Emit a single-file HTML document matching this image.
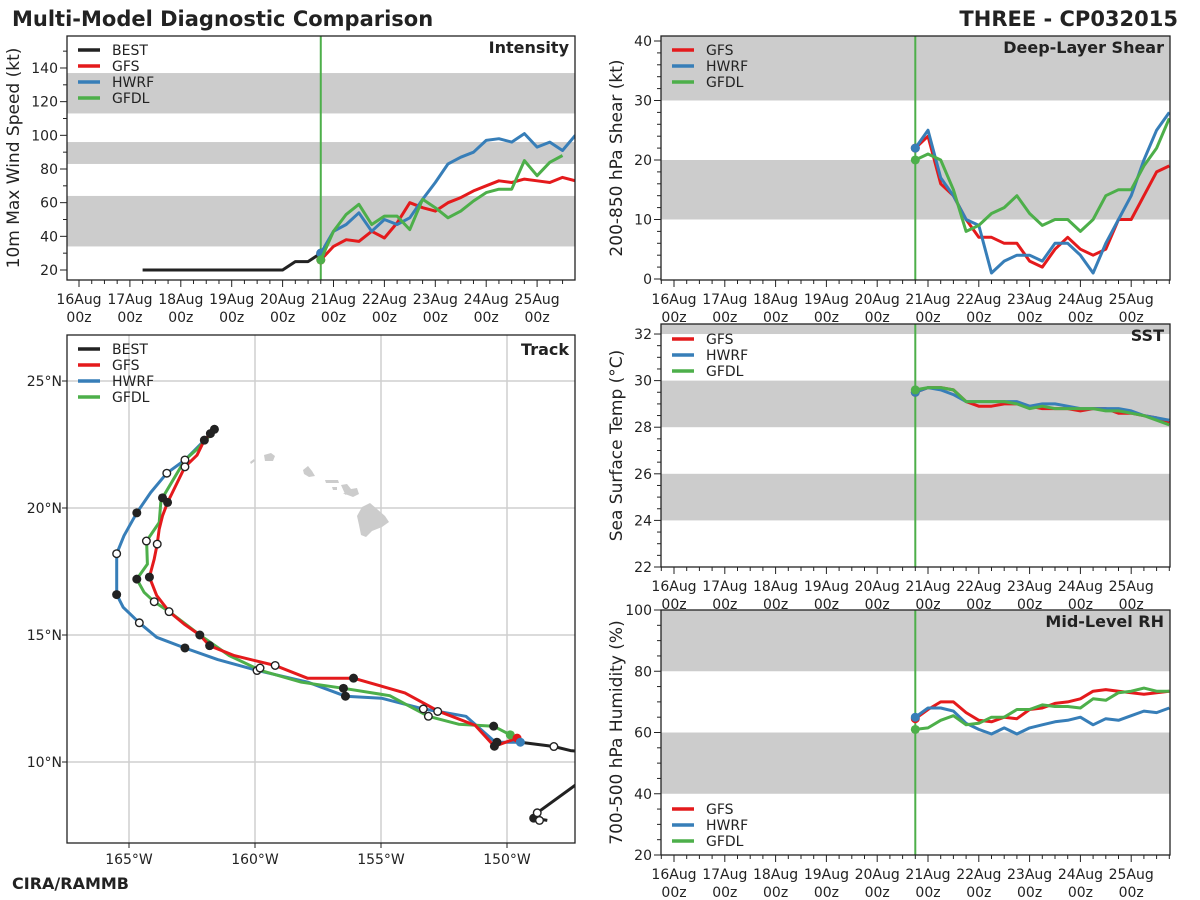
<!DOCTYPE html>
<html><head><meta charset="utf-8"><style>
html,body{margin:0;padding:0;background:#fff;}
svg{display:block;font-family:"DejaVu Sans","Liberation Sans",sans-serif;}
</style></head><body>
<svg id="chart" width="1200" height="900" viewBox="0 0 1200 900" xmlns="http://www.w3.org/2000/svg">
<rect width="1200" height="900" fill="#fff"/>
<text x="12" y="26" font-size="21" font-weight="bold" fill="#222">Multi-Model Diagnostic Comparison</text>
<text x="1178" y="26" font-size="21" font-weight="bold" fill="#222" text-anchor="end">THREE - CP032015</text>
<text x="12" y="889" font-size="16" font-weight="bold" fill="#222">CIRA/RAMMB</text>
<g id="layer"></g>
</svg>
<script>
// ---------- data ----------
const dayLabels = ["16Aug","17Aug","18Aug","19Aug","20Aug","21Aug","22Aug","23Aug","24Aug","25Aug"];
const bestTimes = [1.25,1.5,1.75,2.0,2.25,2.5,2.75,3.0,3.25,3.5,3.75,4.0,4.25,4.5,4.75];
const bestIntensity = [20,20,20,20,20,20,20,20,20,20,20,20,25,25,30];
const modelTimes = [4.75,5.0,5.25,5.5,5.75,6.0,6.25,6.5,6.75,7.0,7.25,7.5,7.75,8.0,8.25,8.5,8.75,9.0,9.25,9.5,9.75];
const initTime = 4.75;
const gfsIntensity = [26,34,38,37,43,39,48,60,57,55,60,63,67,70,73,72,74,73,72,75,73];
const hwrfIntensity = [30,43,47,54,43,50,47,51,62,72,83,87,90,97,98,96,101,93,96,91,100];
const gfdlIntensity = [26,43,53,59,47,52,52,44,62,57,51,55,61,66,68,68,85,76,84,88];
const gfsShear = [22,24,16,14,10,7,7,6,6,3,2,5,7,5,4,5,10,10,14,18,19];
const hwrfShear = [22,25,17,14,10,9,1,3,4,4,3,6,6,4,1,6,10,14,20,25,28];
const gfdlShear = [20,21,20,15,8,9,11,12,14,11,9,10,10,8,10,14,15,15,19,22,27];
const gfsSST = [29.5,29.7,29.7,29.6,29.1,28.9,28.9,29.0,29.0,28.9,28.8,28.8,28.8,28.7,28.8,28.8,28.6,28.6,28.5,28.4,28.2];
const hwrfSST = [29.5,29.7,29.6,29.4,29.1,29.1,29.1,29.1,29.1,28.9,29.0,29.0,28.9,28.8,28.8,28.8,28.8,28.7,28.5,28.4,28.3];
const gfdlSST = [29.6,29.7,29.7,29.6,29.1,29.1,29.1,29.1,29.0,28.8,28.9,28.8,28.8,28.8,28.8,28.7,28.7,28.6,28.5,28.3,28.1];
const gfsRH = [64.5,67.5,70,70,66.5,64,63.5,65,64.5,67.5,68,69.5,70,71,73.5,74,73.5,73,72.5,73,73.5];
const hwrfRH = [65,68,68,67,63,61,59.5,61.5,59.5,61.5,62.5,63.5,64,65,62.5,64.5,64,65.5,67,66.5,68];
const gfdlRH = [61,61.5,64,65.5,62.5,63,65,65,67.5,67.5,69,68.5,68.5,68,71,70.5,73,73.5,74.5,73.5,73.5];
// track [lon, lat]
const bestTrack = [[-148.4,7.7],[-148.94,7.79],[-148.8,8.0],[-146.8,9.44],[-146.3,10.35],[-147.48,10.45],[-148.14,10.61],[-149.47,10.78]];
const gfsTrack = [[-149.6,10.94],[-150.5,10.62],[-151.26,11.44],[-152.72,12.0],[-154.05,12.72],[-156.09,13.3],[-157.92,13.3],[-159.2,13.8],[-160.82,14.19],[-161.8,14.58],[-162.19,15.0],[-162.81,15.43],[-163.41,15.92],[-163.9,16.55],[-164.19,17.28],[-164.0,17.99],[-163.88,18.58],[-163.8,19.17],[-163.67,19.69],[-163.47,20.22],[-162.78,21.62],[-162.3,22.08],[-162.01,22.67],[-161.77,22.93],[-161.61,23.1]];
const hwrfTrack = [[-149.47,10.78],[-150.46,10.78],[-151.63,11.8],[-152.72,11.99],[-153.32,12.09],[-154.98,12.51],[-156.41,12.59],[-157.9,13.14],[-159.89,13.6],[-161.48,14.03],[-162.78,14.49],[-163.9,14.91],[-164.59,15.48],[-165.23,16.09],[-165.49,16.59],[-165.49,17.6],[-165.49,18.2],[-165.2,18.91],[-164.69,19.81],[-164.14,20.61],[-163.5,21.37],[-162.78,21.89],[-161.77,22.9]];
const gfdlTrack = [[-149.87,11.07],[-150.53,11.41],[-151.92,11.49],[-153.12,11.8],[-153.92,12.22],[-154.65,12.61],[-156.49,12.9],[-158.16,13.14],[-159.76,13.6],[-161.02,14.19],[-162.19,15.0],[-163.41,15.92],[-164.0,16.31],[-164.4,16.68],[-164.69,17.2],[-164.27,17.79],[-164.3,18.7],[-163.8,19.43],[-163.74,20.22],[-163.67,20.4],[-162.78,21.89],[-162.3,22.31],[-161.68,22.97]];
const filledMarkers = [[-161.61,23.1],[-161.77,22.93],[-162.01,22.67],[-163.67,20.4],[-163.47,20.22],[-164.69,19.81],[-165.49,16.59],[-164.69,17.2],[-164.19,17.28],[-162.19,15.0],[-161.8,14.58],[-162.78,14.49],[-156.09,13.3],[-156.49,12.9],[-156.41,12.59],[-150.53,11.41],[-150.4,10.78],[-150.5,10.62],[-148.94,7.79]];
const openMarkers = [[-162.78,21.89],[-162.78,21.62],[-163.5,21.37],[-164.31,18.7],[-163.88,18.58],[-165.49,18.2],[-164.0,16.31],[-163.41,15.92],[-164.59,15.48],[-159.92,13.6],[-159.8,13.7],[-159.2,13.8],[-153.32,12.09],[-152.75,11.99],[-153.12,11.8],[-148.14,10.61],[-148.8,8.0],[-148.71,7.7]];
const lonTicks = [-165,-160,-155,-150];
const latTicks = [10,15,20,25];

const C = {BEST:"#222222",GFS:"#e41a1c",HWRF:"#377eb8",GFDL:"#4daf4a"};
const NS = "http://www.w3.org/2000/svg";
const layer = document.getElementById('layer');
function mk(tag, attrs, parent){
  const e = document.createElementNS(NS, tag);
  for (const k in attrs) e.setAttribute(k, attrs[k]);
  (parent||layer).appendChild(e);
  return e;
}
function txt(x,y,s,size,anchor,weight,parent){
  const t = mk('text',{x:x,y:y,'font-size':size,'text-anchor':anchor||'start','font-weight':weight||'normal',fill:'#222'},parent);
  t.textContent = s; return t;
}

function timePanel(p){
  const g = mk('g',{});
  
  
  const X = t => p.x0 + (t - p.tmin)/(p.tmax - p.tmin)*(p.x1-p.x0);
  const Y = v => p.y1 - (v - p.ymin)/(p.ymax - p.ymin)*(p.y1-p.y0);
  const cid = 'clip-'+p.name;
  const cp = mk('clipPath',{id:cid},g); mk('rect',{x:p.x0,y:p.y0,width:p.x1-p.x0,height:p.y1-p.y0},cp);
  p.bands.forEach(b=>{
    const yt = Math.max(p.y0, Y(b[1])), yb = Math.min(p.y1, Y(b[0]));
    const r = mk('rect',{x:p.x0,y:yt,width:p.x1-p.x0,height:yb-yt,fill:'#cccccc'},g);
    
    
  });
  const vl = mk('line',{x1:X(initTime),x2:X(initTime),y1:p.y0,y2:p.y1,stroke:C.GFDL,'stroke-width':2},g);
  
  
  const sg = mk('g',{'clip-path':'url(#'+cid+')'},g);
  p.series.forEach(s=>{
    const pts = s.v.map((v,i)=>X(s.t[i]).toFixed(1)+','+Y(v).toFixed(1)).join(' ');
    const pl = mk('polyline',{points:pts,fill:'none',stroke:C[s.k],'stroke-width':3,'stroke-linejoin':'round'},sg);
    
    
    const idx = s.k==='BEST' ? s.v.length-1 : 0;
    const c = mk('circle',{cx:X(s.t[idx]),cy:Y(s.v[idx]),r:4.5,fill:C[s.k]},sg);
    
    
  });
  mk('rect',{x:p.x0,y:p.y0,width:p.x1-p.x0,height:p.y1-p.y0,fill:'none',stroke:'#222','stroke-width':1.3},g);
  for (let q=Math.ceil(p.tmin*4); q<=p.tmax*4; q++){
    const x = X(q/4), major = q%4===0;
    mk('line',{x1:x,x2:x,y1:p.y1,y2:p.y1+(major?7:4),stroke:'#222','stroke-width':1},g);
  }
  dayLabels.forEach((d,i)=>{
    const a = txt(X(i),p.y1+24,d,14,'middle',null,g);
    
    
    txt(X(i),p.y1+42,'00z',14,'middle',null,g);
  });
  for (let v=Math.ceil(p.ymin/p.minor)*p.minor; v<=p.ymax+1e-6; v+=p.minor){
    const major = Math.abs(v/p.major - Math.round(v/p.major))<1e-6;
    const y = Y(v);
    mk('line',{x1:p.x0,x2:p.x0-(major?7:4),y1:y,y2:y,stroke:'#222','stroke-width':1},g);
    if (major){
      const a = txt(p.x0-9,y+5,String(Math.round(v)),14,'end',null,g);
      
      
    }
  }
  const yl = txt(0,0,p.ylabel,17,'middle',null,g);
  yl.setAttribute('transform','translate('+p.ylx+','+((p.y0+p.y1)/2)+') rotate(-90)');
  
  
  const tt = txt(p.x1-6,p.y0+17,p.title,16,'end','bold',g);
  
  
  legend(g, p.x0+11, p.legY, p.series.map(s=>s.k));
}
function legend(g, x, y, keys){
  keys.forEach((k,i)=>{
    const lg = mk('g',{},g);
    
    
    const yy = y + i*16;
    mk('line',{x1:x,x2:x+22,y1:yy,y2:yy,stroke:C[k],'stroke-width':3.5},lg);
    txt(x+34,yy+5,k,14,'start',null,lg);
  });
}

const L = {x0:67,x1:575,tmin:(67-79)/50.9,tmax:(575-79)/50.9};
const R = {x0:661,x1:1170,tmin:(661-674)/50.8,tmax:(1170-674)/50.8};
timePanel(Object.assign({name:'intensity-panel',y0:36,y1:280,ymin:14.06,ymax:159,bands:[[34,64],[83,96],[113,137]],minor:10,major:20,
  ylabel:'10m Max Wind Speed (kt)',ylx:19,title:'Intensity',legY:50,
  series:[{k:'BEST',t:bestTimes,v:bestIntensity},{k:'GFS',t:modelTimes,v:gfsIntensity},{k:'HWRF',t:modelTimes,v:hwrfIntensity},{k:'GFDL',t:modelTimes,v:gfdlIntensity}]},L));
timePanel(Object.assign({name:'shear-panel',y0:36,y1:280,ymin:-0.17,ymax:40.84,bands:[[10,20],[30,45]],minor:2,major:10,
  ylabel:'200-850 hPa Shear (kt)',ylx:622,title:'Deep-Layer Shear',legY:50,
  series:[{k:'GFS',t:modelTimes,v:gfsShear},{k:'HWRF',t:modelTimes,v:hwrfShear},{k:'GFDL',t:modelTimes,v:gfdlShear}]},R));
timePanel(Object.assign({name:'sst-panel',y0:324,y1:567,ymin:22,ymax:32.43,bands:[[24,26],[28,30],[32,34]],minor:0.5,major:2,
  ylabel:'Sea Surface Temp (°C)',ylx:622,title:'SST',legY:339,
  series:[{k:'GFS',t:modelTimes,v:gfsSST},{k:'HWRF',t:modelTimes,v:hwrfSST},{k:'GFDL',t:modelTimes,v:gfdlSST}]},R));
timePanel(Object.assign({name:'rh-panel',y0:610,y1:855,ymin:20,ymax:100,bands:[[40,60],[80,100]],minor:5,major:20,
  ylabel:'700-500 hPa Humidity (%)',ylx:622,title:'Mid-Level RH',legY:809,
  series:[{k:'GFS',t:modelTimes,v:gfsRH},{k:'HWRF',t:modelTimes,v:hwrfRH},{k:'GFDL',t:modelTimes,v:gfdlRH}]},R));

// ---------- track ----------
(function(){
  const p = {x0:67,x1:575,y0:335,y1:843};
  const lonMin = -165-(129-67)/25.2, lonMax = -165+(575-129)/25.2;
  const latMax = 25+(381-335)/25.4, latMin = 25-(843-381)/25.4;
  const X = lo => p.x0 + (lo-lonMin)/(lonMax-lonMin)*(p.x1-p.x0);
  const Y = la => p.y1 - (la-latMin)/(latMax-latMin)*(p.y1-p.y0);
  const g = mk('g',{});
  
  
  const cp = mk('clipPath',{id:'clip-track'},g); mk('rect',{x:p.x0,y:p.y0,width:p.x1-p.x0,height:p.y1-p.y0},cp);
  lonTicks.forEach(lo=>{
    const l = mk('line',{x1:X(lo),x2:X(lo),y1:p.y0,y2:p.y1,stroke:'#cfcfcf','stroke-width':1.5},g);
    
    
    mk('line',{x1:X(lo),x2:X(lo),y1:p.y1,y2:p.y1+5,stroke:'#222'},g);
    const t = txt(X(lo),p.y1+21,Math.abs(lo)+'°W',14,'middle',null,g);
    
    
  });
  latTicks.forEach(la=>{
    const l = mk('line',{x1:p.x0,x2:p.x1,y1:Y(la),y2:Y(la),stroke:'#cfcfcf','stroke-width':1.5},g);
    
    
    mk('line',{x1:p.x0,x2:p.x0-5,y1:Y(la),y2:Y(la),stroke:'#222'},g);
    const t = txt(p.x0-5,Y(la)+5,la+'°N',14,'end',null,g);
    
    
  });
  const isl = mk('g',{fill:'#cccccc'},g);
  
  
  mk('path',{d:'M362 507 L370 503 L377 509 L385 516 L389 522 L382 527 L372 531 L366 537 L361 535 L359 525 L357 516 Z'},isl);
  mk('path',{d:'M341 485 L347 484 L351 489 L357 488 L359 494 L353 497 L345 494 Z'},isl);
  mk('path',{d:'M325 480 L338 480 L339 483 L326 483 Z'},isl);
  mk('path',{d:'M332 487 L337 487 L337 490 L333 490 Z'},isl);
  mk('path',{d:'M343 493 L347 493 L346 495 Z'},isl);
  mk('path',{d:'M303 470 L308 466 L312 471 L315 476 L309 477 L304 474 Z'},isl);
  mk('path',{d:'M264 455 L271 453 L275 456 L273 461 L265 461 Z'},isl);
  mk('path',{d:'M250 462 L254 459 L255 461 L251 464 Z'},isl);
  const sg = mk('g',{'clip-path':'url(#clip-track)'},g);
  [['BEST',bestTrack],['HWRF',hwrfTrack],['GFDL',gfdlTrack],['GFS',gfsTrack]].forEach(([k,arr])=>{
    const pl = mk('polyline',{points:arr.map(q=>X(q[0]).toFixed(1)+','+Y(q[1]).toFixed(1)).join(' '),fill:'none',stroke:C[k],'stroke-width':3,'stroke-linejoin':'round'},sg);
    
    
  });
  [['GFDL',gfdlTrack],['GFS',gfsTrack],['HWRF',hwrfTrack]].forEach(([k,arr])=>{
    const c = mk('circle',{cx:X(arr[0][0]),cy:Y(arr[0][1]),r:4.5,fill:C[k]},sg);
    
    
  });
  filledMarkers.forEach(q=>{
    const c = mk('circle',{cx:X(q[0]),cy:Y(q[1]),r:4.5,fill:'#222'},sg);
    
    
  });
  openMarkers.forEach(q=>{
    const c = mk('circle',{cx:X(q[0]),cy:Y(q[1]),r:3.8,fill:'#fff',stroke:'#222','stroke-width':1.4},sg);
    
    
  });
  mk('rect',{x:p.x0,y:p.y0,width:p.x1-p.x0,height:p.y1-p.y0,fill:'none',stroke:'#222','stroke-width':1.3},g);
  const tt = txt(p.x1-6,p.y0+20,'Track',16,'end','bold',g);
  
  
  legend(g, p.x0+11, 349, ['BEST','GFS','HWRF','GFDL']);
})();
</script>
</body></html>
